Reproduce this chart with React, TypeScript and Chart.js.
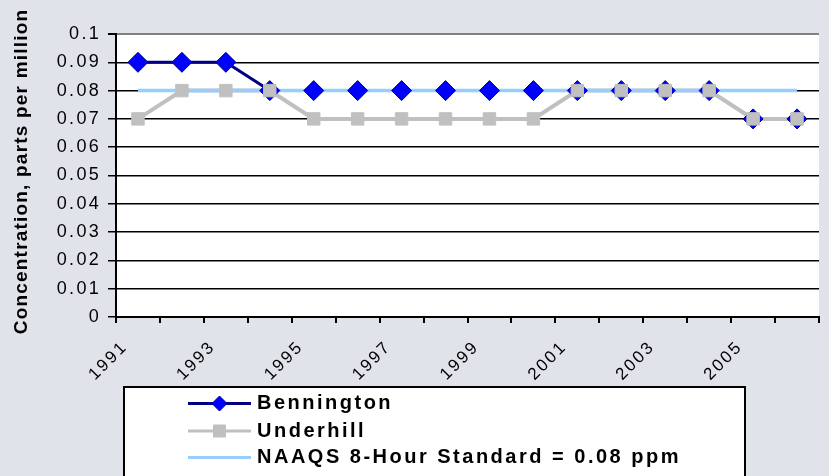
import React, { useEffect, useRef } from 'react';
import { Chart, registerables } from 'chart.js';
Chart.register(...registerables);

const years = ['1991', '1992', '1993', '1994', '1995', '1996', '1997', '1998', '1999', '2000', '2001', '2002', '2003', '2004', '2005', '2006'];
const bennington = [0.09, 0.09, 0.09, 0.08, 0.08, 0.08, 0.08, 0.08, 0.08, 0.08, 0.08, 0.08, 0.08, 0.08, 0.07, 0.07];
const underhill = [0.07, 0.08, 0.08, 0.08, 0.07, 0.07, 0.07, 0.07, 0.07, 0.07, 0.08, 0.08, 0.08, 0.08, 0.07, 0.07];
const naaqsStandard = [0.08, 0.08, 0.08, 0.08, 0.08, 0.08, 0.08, 0.08, 0.08, 0.08, 0.08, 0.08, 0.08, 0.08, 0.08, 0.08];
const seriesLabels = ['Bennington', 'Underhill', 'NAAQS 8-Hour Standard = 0.08 ppm'];
const yAxisTitle = 'Concentration, parts per million';
const yMin = 0;
const yMax = 0.1;
const yStep = 0.01;

const FONT = '"Liberation Sans", Arial, Helvetica, sans-serif';
const BG = '#e0e3ea';

const decorPlugin = {
  id: 'decor',
  beforeDraw(chart: any) {
    const { ctx, chartArea: a, width, height } = chart;
    ctx.save();
    ctx.fillStyle = BG;
    ctx.fillRect(0, 0, width, height);
    ctx.fillStyle = '#ffffff';
    ctx.fillRect(a.left, a.top, a.right - a.left, a.bottom - a.top);
    ctx.restore();
    (ctx as any).letterSpacing = '2.3px';
  },
  afterDraw(chart: any) {
    const { ctx, chartArea: a } = chart;
    const ds = chart.data.datasets;
    // Y axis title
    ctx.save();
    (ctx as any).letterSpacing = '1.2px';
    ctx.translate(22, (a.top + a.bottom) / 2 - 4);
    ctx.rotate(-Math.PI / 2);
    ctx.font = `bold 19px ${FONT}`;
    ctx.fillStyle = '#000';
    ctx.textAlign = 'center';
    ctx.textBaseline = 'middle';
    ctx.fillText(yAxisTitle, 0, 0);
    ctx.restore();

    // Legend box
    ctx.save();
    ctx.fillStyle = '#ffffff';
    ctx.fillRect(124, 387, 621, 100);
    ctx.strokeStyle = '#000';
    ctx.lineWidth = 2;
    ctx.strokeRect(124, 387, 621, 100);
    const rows = [403.5, 431, 457.5];
    const items = [
      { line: ds[0], marker: ds[3], size: 7.5 },
      { line: ds[1], marker: ds[4], size: 6 },
      { line: ds[2], marker: null as any, size: 0 },
    ];
    items.forEach((it, i) => {
      const y = rows[i];
      ctx.strokeStyle = it.line.borderColor;
      ctx.lineWidth = 3;
      ctx.beginPath();
      ctx.moveTo(188, y);
      ctx.lineTo(251, y);
      ctx.stroke();
      if (it.marker) {
        const cx = 219.5;
        const r = it.size;
        ctx.fillStyle = it.marker.pointBackgroundColor;
        ctx.strokeStyle = it.marker.pointBorderColor;
        ctx.lineWidth = 1;
        ctx.beginPath();
        if (it.marker.pointStyle === 'rectRot') {
          ctx.moveTo(cx, y - r);
          ctx.lineTo(cx + r, y);
          ctx.lineTo(cx, y + r);
          ctx.lineTo(cx - r, y);
          ctx.closePath();
        } else {
          ctx.rect(cx - r, y - r, 2 * r, 2 * r);
        }
        ctx.fill();
        ctx.stroke();
      }
      (ctx as any).letterSpacing = '2.5px';
      ctx.font = `bold 20px ${FONT}`;
      ctx.fillStyle = '#000';
      ctx.textAlign = 'left';
      ctx.textBaseline = 'middle';
      ctx.fillText(it.line.label, 257, y);
    });
    ctx.restore();
  },
};

export default function App() {
  const ref = useRef<HTMLCanvasElement>(null);
  useEffect(() => {
    document.body.style.margin = '0';
    const canvas = ref.current!;
    const chart = new Chart(canvas, {
      type: 'line',
      data: {
        labels: years,
        datasets: [
          { label: seriesLabels[0], data: bennington, borderColor: '#000080', borderWidth: 3, pointRadius: 0, order: 5 } as any,
          { label: seriesLabels[1], data: underhill, borderColor: '#c0c0c0', borderWidth: 4, pointRadius: 0, order: 4 },
          { label: seriesLabels[2], data: naaqsStandard, borderColor: '#99ccff', borderWidth: 3.5, pointRadius: 0, order: 3 },
          {
            label: seriesLabels[0] + ' markers', data: bennington, showLine: false, pointStyle: 'rectRot', pointRadius: 10,
            pointBackgroundColor: '#0000ff', pointBorderColor: '#000080', pointBorderWidth: 1, order: 2,
          },
          {
            label: seriesLabels[1] + ' markers', data: underhill, showLine: false, pointStyle: 'rect', pointRadius: 8.8,
            pointBackgroundColor: '#c0c0c0', pointBorderColor: '#c0c0c0', pointBorderWidth: 1, order: 1,
          },
        ],
      },
      options: {
        animation: false,
        responsive: false,
        devicePixelRatio: 1,
        layout: { padding: { top: 34, left: 0, right: 0, bottom: 0 } },
        plugins: { legend: { display: false }, tooltip: { enabled: false }, title: { display: false } },
        scales: {
          x: {
            offset: true,
            grid: { offset: true, drawOnChartArea: false, color: '#000', lineWidth: 2, tickLength: 6 },
            border: { color: '#000', width: 2 },
            ticks: {
              autoSkip: false, minRotation: 45, maxRotation: 45, labelOffset: -13, padding: 14,
              color: '#000', font: { size: 17, family: FONT },
              callback: (_v: any, i: number) => (i % 2 === 0 ? years[i] : ''),
            },
            afterFit: (s: any) => { s.height = 159; },
          },
          y: {
            min: yMin,
            max: yMax,
            ticks: {
              stepSize: yStep, color: '#000', padding: 7, font: { size: 18, family: FONT },
              callback: (v: any) => String(Number(Number(v).toFixed(2))),
            },
            grid: {
              color: (c: any) => (c.index === 10 ? '#808080' : '#000'),
              lineWidth: (c: any) => (c.index === 10 ? 2 : 1.5),
              tickColor: '#000', tickLength: 8,
            },
            border: { color: '#000', width: 2 },
            afterFit: (s: any) => { s.width = 116; },
          },
        },
      },
      plugins: [decorPlugin],
    } as any);
    return () => chart.destroy();
  }, []);
  return (
    <div style={{ position: 'absolute', left: 0, top: 0, width: 829, height: 476, overflow: 'hidden' }}>
      <canvas ref={ref} width={830} height={476} style={{ display: 'block' }} />
    </div>
  );
}
